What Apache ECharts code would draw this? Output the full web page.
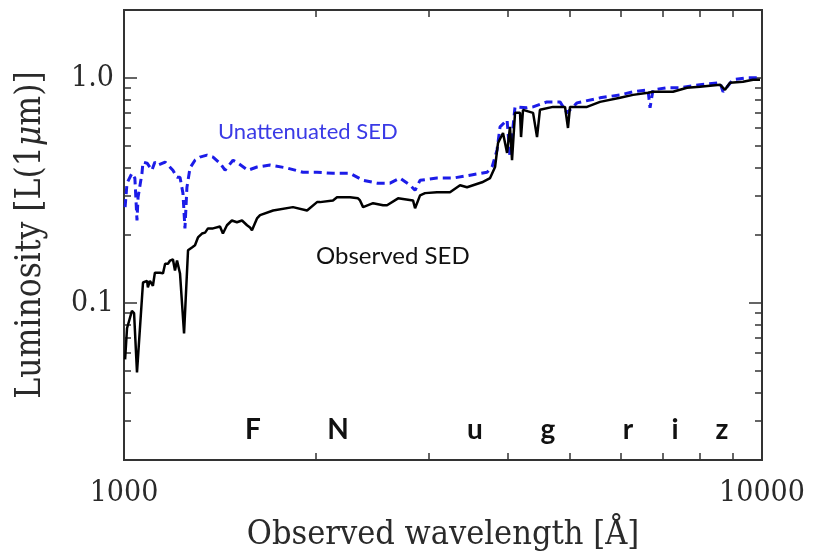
<!DOCTYPE html>
<html>
<head>
<meta charset="utf-8">
<script src="https://cdn.jsdelivr.net/npm/echarts@6/dist/echarts.min.js"></script>
<style>
  html, body { margin: 0; padding: 0; background: #fff; }
  #chart { width: 813px; height: 551px; }
</style>
</head>
<body>
<div id="chart"></div>
<script>
// observed (attenuated) SED, black solid
const obsWave = [1004, 1011, 1029, 1037, 1048, 1071, 1087, 1090, 1098, 1110, 1118, 1139, 1151, 1160, 1172, 1181, 1193, 1202, 1211, 1224,
  1242, 1260, 1278, 1292, 1306, 1325, 1340, 1354, 1379, 1414, 1429, 1450, 1476, 1503, 1531, 1559, 1576, 1587, 1616, 1634,
  1713, 1840, 1936, 2007, 2029, 2126, 2157, 2237, 2261, 2327, 2344, 2370, 2457, 2547, 2584, 2689, 2708, 2838, 2859, 2911,
  2964, 3094, 3243, 3363, 3449, 3641, 3748, 3816, 3857, 3927, 3985, 4027, 4057, 4101, 4176, 4191, 4221, 4377, 4440, 4487,
  4703, 4912, 4965, 5001, 5317, 5573, 5991, 6279, 6627, 6748, 7252, 7628, 7993, 8595, 8750, 8910, 9337, 9681, 9929];
const obsLum = [0.056, 0.077, 0.092, 0.090, 0.049, 0.123, 0.125, 0.117, 0.125, 0.119, 0.136, 0.136, 0.135, 0.149, 0.149, 0.154, 0.156, 0.139, 0.154, 0.135,
  0.073, 0.171, 0.176, 0.180, 0.195, 0.203, 0.205, 0.214, 0.214, 0.218, 0.203, 0.221, 0.232, 0.228, 0.232, 0.221, 0.216, 0.210, 0.237, 0.245,
  0.257, 0.266, 0.257, 0.280, 0.280, 0.285, 0.294, 0.294, 0.294, 0.291, 0.285, 0.266, 0.277, 0.271, 0.271, 0.291, 0.294, 0.285, 0.263, 0.300,
  0.307, 0.310, 0.310, 0.333, 0.326, 0.343, 0.358, 0.401, 0.513, 0.568, 0.463, 0.605, 0.430, 0.698, 0.698, 0.545, 0.720, 0.698, 0.545, 0.720,
  0.742, 0.742, 0.598, 0.742, 0.742, 0.781, 0.814, 0.839, 0.857, 0.866, 0.866, 0.902, 0.912, 0.931, 0.884, 0.950, 0.960, 0.980, 0.980];

// unattenuated SED, blue dashed
const intWave = [1004, 1011, 1029, 1040, 1048, 1052, 1067, 1071, 1087, 1106, 1118, 1131, 1160, 1193, 1211, 1224, 1237, 1246, 1255, 1269,
  1292, 1315, 1349, 1379, 1414, 1440, 1482, 1509, 1564, 1616, 1694, 1801, 1908, 2007, 2126, 2261, 2370, 2492, 2612, 2708,
  2808, 2859, 2911, 3094, 3279, 3486, 3707, 3775, 3843, 3885, 3985, 4027, 4101, 4283, 4377, 4603, 4824, 4948, 5129, 5573,
  5991, 6279, 6627, 6676, 6748, 7097, 7438, 7993, 8595, 8688, 9006, 9474, 9929];
const intLum = [0.266, 0.340, 0.376, 0.358, 0.232, 0.294, 0.376, 0.422, 0.417, 0.388, 0.422, 0.409, 0.422, 0.388, 0.361, 0.361, 0.307, 0.214, 0.326, 0.397,
  0.430, 0.444, 0.453, 0.444, 0.417, 0.388, 0.430, 0.417, 0.388, 0.401, 0.409, 0.397, 0.380, 0.380, 0.376, 0.376, 0.350, 0.340, 0.340, 0.358,
  0.333, 0.316, 0.350, 0.358, 0.358, 0.369, 0.380, 0.401, 0.477, 0.605, 0.649, 0.444, 0.742, 0.735, 0.742, 0.781, 0.781, 0.698, 0.773, 0.814,
  0.839, 0.866, 0.884, 0.735, 0.884, 0.902, 0.902, 0.931, 0.950, 0.866, 0.980, 1.0, 1.0];

const xMinorTicks = [2000, 3000, 4000, 5000, 6000, 7000, 8000, 9000];
const xLabels = [1000, 10000];
const yMajorTicks = [0.1, 1];
const yMinorTicks = [0.03, 0.04, 0.05, 0.06, 0.07, 0.08, 0.09, 0.2, 0.3, 0.4, 0.5, 0.6, 0.7, 0.8, 0.9];

const bands = ['F', 'N', 'u', 'g', 'r', 'i', 'z'];
const bandX = [253, 338, 475, 548, 628, 675, 722];

const axisFont = 'DejaVu Serif Condensed';
const frame = { show: true, lineStyle: { color: '#333', width: 2 } };

function pairs(xs, ys) {
  return xs.map((x, i) => [x, ys[i]]);
}

function xAx(pos, labels) {
  return {
    type: 'log', logBase: 10, min: 1000, max: 10000, position: pos,
    axisLine: frame,
    splitLine: { show: false },
    axisTick: { show: true, inside: true, length: 7, customValues: xMinorTicks, lineStyle: { color: '#333', width: 1.5 } },
    axisLabel: labels ? { show: true, customValues: xLabels, margin: 18, fontFamily: axisFont, fontSize: 30, color: '#2a2a2a',
      formatter: v => String(Math.round(v)) } : { show: false }
  };
}

function yAx(pos, major, labels) {
  const a = {
    type: 'log', logBase: 10, min: 0.02, max: 2, position: pos,
    axisLine: frame,
    splitLine: { show: false },
    axisTick: { show: true, inside: true, length: major ? 13 : 7, customValues: major ? yMajorTicks : yMinorTicks, lineStyle: { color: '#333', width: 1.5 } },
    axisLabel: { show: false }
  };
  if (labels) {
    a.axisLabel = { show: true, customValues: yMajorTicks, margin: 10, fontFamily: axisFont, fontSize: 30, color: '#2a2a2a',
      formatter: v => (v >= 1 ? '1.0' : '0.1') };
    a.name = 'Luminosity [L(1{i|μ}m)]';
    a.nameLocation = 'middle';
    a.nameGap = 76;
    a.nameTextStyle = { fontFamily: axisFont, fontSize: 35, color: '#2a2a2a',
      rich: { i: { fontFamily: axisFont, fontSize: 35, fontStyle: 'italic', color: '#2a2a2a' } } };
  }
  return a;
}

const chart = echarts.init(document.getElementById('chart'));

const xBottom = xAx('bottom', true);
xBottom.name = 'Observed wavelength [Å]';
xBottom.nameLocation = 'middle';
xBottom.nameGap = 58;
xBottom.nameTextStyle = { fontFamily: axisFont, fontSize: 34, color: '#2a2a2a' };

const graphics = bands.map((b, i) => ({
  type: 'text', x: bandX[i], y: 430,
  style: { text: b, fontFamily: 'Lato', fontWeight: 'bold', fontSize: 28, fill: '#111', align: 'center', verticalAlign: 'middle' }
}));
graphics.push({
  type: 'text', x: 218, y: 132,
  style: { text: 'Unattenuated SED', fontFamily: 'Lato', fontSize: 22, fill: '#3a3ae6', align: 'left', verticalAlign: 'middle' }
});
graphics.push({
  type: 'text', x: 316, y: 256,
  style: { text: 'Observed SED', fontFamily: 'Lato', fontSize: 24, fill: '#111', align: 'left', verticalAlign: 'middle' }
});

chart.setOption({
  animation: false,
  backgroundColor: '#fff',
  grid: { left: 124, right: 51, top: 10, bottom: 91, containLabel: false, outerBoundsMode: 'none' },
  xAxis: [xBottom, xAx('top', false)],
  yAxis: [yAx('left', true, true), yAx('left', false, false), yAx('right', true, false), yAx('right', false, false)],
  series: [
    {
      type: 'line', name: 'Unattenuated SED', xAxisIndex: 0, yAxisIndex: 0,
      data: pairs(intWave, intLum), showSymbol: false, symbol: 'none',
      lineStyle: { color: '#1c1ce8', width: 3, type: [8, 5] }, z: 3
    },
    {
      type: 'line', name: 'Observed SED', xAxisIndex: 0, yAxisIndex: 0,
      data: pairs(obsWave, obsLum), showSymbol: false, symbol: 'none',
      lineStyle: { color: '#000', width: 2.5 }, z: 4
    }
  ],
  graphic: graphics
});
</script>
</body>
</html>
